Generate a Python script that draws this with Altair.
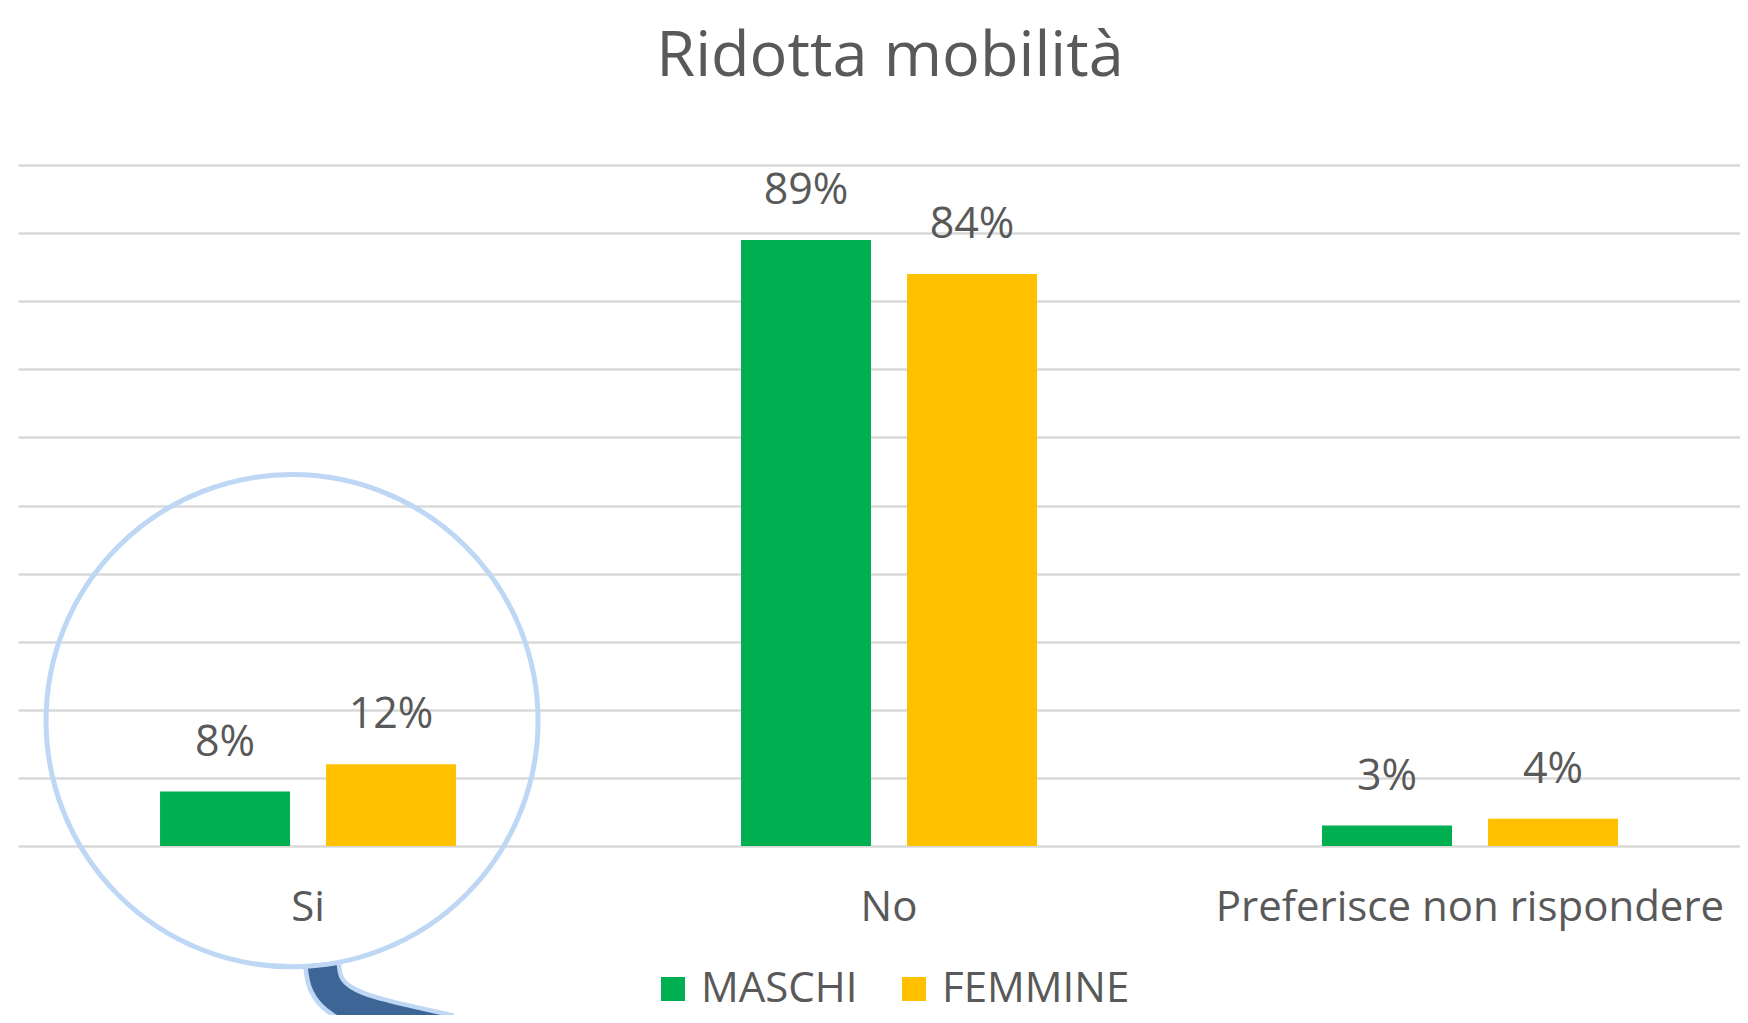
import altair as alt
import pandas as pd

categories = ["Si", "No", "Preferisce non rispondere"]
series = ["MASCHI", "FEMMINE"]
maschi = [8, 89, 3]
femmine = [12, 84, 4]
colors = ["#00b050", "#ffc000"]
title_text = "Ridotta mobilità"
grid_values = [0, 10, 20, 30, 40, 50, 60, 70, 80, 90, 100]

# callout decoration (circle around "Si", with a tail)
callout_category = ["Si"]
callout_center_value = [18.4]
tail_x = [304, 306, 322, 352, 392, 432]
tail_y = [798, 820, 837, 849, 858, 867]

rows = []
for i, c in enumerate(categories):
    rows.append({"cat": c, "series": series[0], "val": maschi[i]})
    rows.append({"cat": c, "series": series[1], "val": femmine[i]})
df = pd.DataFrame(rows)
df["label"] = df["val"].astype(int).astype(str) + "%"

W, H = 1722, 681
FONT = "Open Sans"
TXT = "#595959"

xscale = alt.Scale(domain=categories, paddingInner=0.4905, paddingOuter=0.2272, align=0.538)
yscale = alt.Scale(domain=[0, 100])
offscale = alt.Scale(domain=series, paddingInner=0.217, paddingOuter=0)

base = alt.Chart(df).encode(
    x=alt.X("cat:N", scale=xscale,
            axis=alt.Axis(title=None, domain=False, ticks=False, grid=False, labelAngle=0,
                          labelFontSize=42, labelFont=FONT, labelColor=TXT, labelPadding=41,
                          labelLimit=1000)),
    xOffset=alt.XOffset("series:N", scale=offscale),
    y=alt.Y("val:Q", scale=yscale,
            axis=alt.Axis(title=None, labels=False, domain=False, ticks=False, values=grid_values,
                          grid=True, gridColor="#d9d9d9", gridWidth=2.5)),
)

bars = base.mark_bar().encode(
    color=alt.Color("series:N", scale=alt.Scale(domain=series, range=colors),
                    legend=alt.Legend(title=None, orient="none", legendX=634, legendY=803,
                                      direction="horizontal", symbolType="square", symbolSize=576,
                                      symbolStrokeWidth=0, labelFontSize=42, labelFont=FONT,
                                      labelColor=TXT, labelOffset=7, columnPadding=35,
                                      labelLimit=1000))
)
text = base.mark_text(dy=-36, baseline="alphabetic", fontSize=43, font=FONT, color=TXT).encode(
    text="label:N"
)

circ_df = pd.DataFrame({"cat": callout_category, "yv": callout_center_value})
circle = alt.Chart(circ_df).mark_point(
    shape="circle", filled=False, size=242064, stroke="#bdd7f5", strokeWidth=5,
    xOffset=-16, opacity=1, clip=False
).encode(
    x=alt.X("cat:N", scale=xscale),
    y=alt.Y("yv:Q", scale=yscale),
)

tail_df = pd.DataFrame({"px": tail_x, "py": tail_y, "i": list(range(len(tail_x)))})
tail_base = alt.Chart(tail_df).encode(
    x=alt.X("px:Q", scale=alt.Scale(domain=[0, W], range=[0, W]), axis=None),
    y=alt.Y("py:Q", scale=alt.Scale(domain=[0, H], range=[0, H]), axis=None),
    order=alt.Order("i:Q"),
)
tail_outline = tail_base.mark_line(stroke="#bdd7f5", strokeWidth=38, interpolate="basis",
                                   strokeCap="butt", clip=False)
tail_fill = tail_base.mark_line(stroke="#3d6596", strokeWidth=29, interpolate="basis",
                                strokeCap="butt", clip=False)

main = alt.layer(bars, text, circle)
tail = alt.layer(tail_outline, tail_fill)

chart = alt.layer(tail, main).resolve_scale(x="independent", y="independent").properties(
    width=W, height=H,
    autosize=alt.AutoSizeParams(type="none"),
    padding={"left": 10, "top": 157, "right": 0, "bottom": 169},
    background="white",
    title=alt.TitleParams(title_text, fontSize=63, font=FONT, color=TXT, fontWeight="normal",
                          anchor="middle", frame="group", offset=76, dx=11),
).configure_view(stroke=None)

chart.save("out.html", embed_options={"renderer": "svg", "actions": False})
